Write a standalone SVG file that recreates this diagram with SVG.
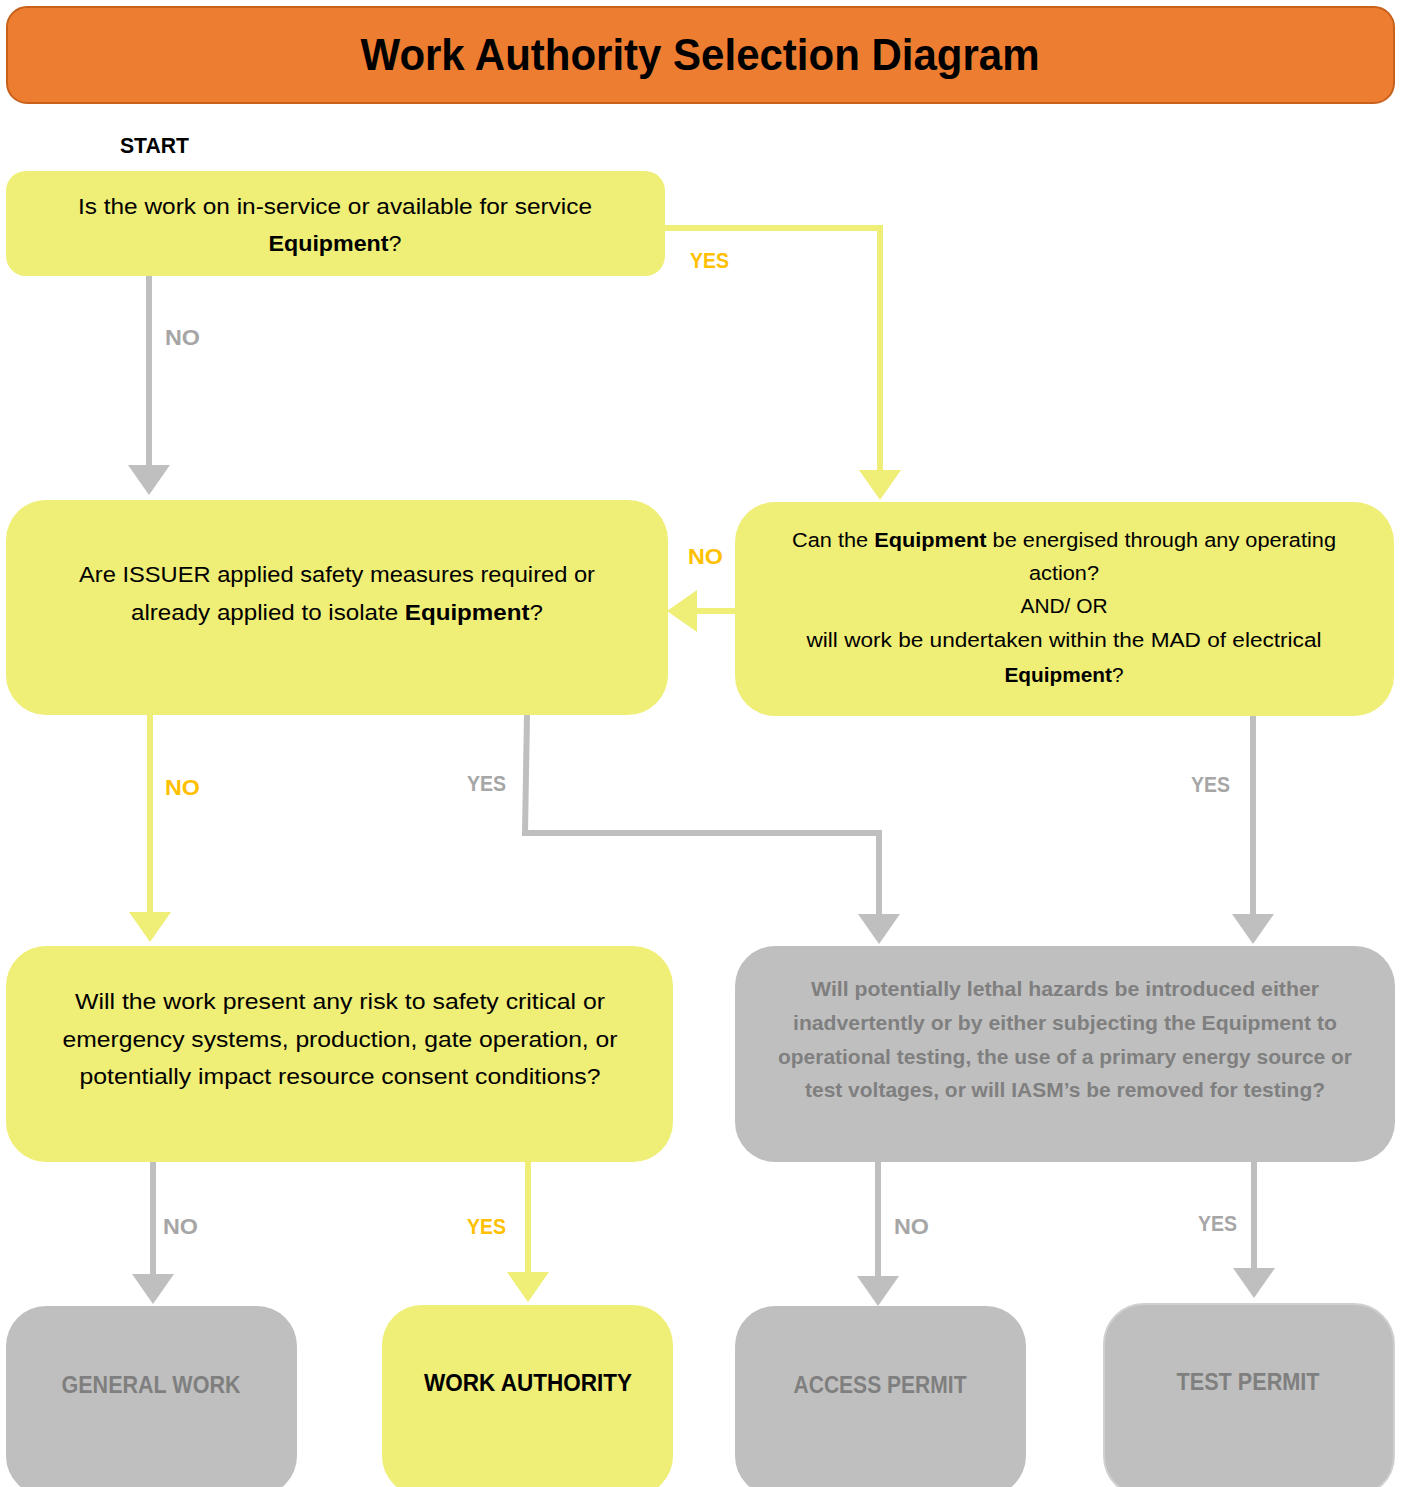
<svg xmlns="http://www.w3.org/2000/svg" width="1402" height="1487" viewBox="0 0 1402 1487">
<style>
text{font-family:"Liberation Sans",Arial,sans-serif;text-anchor:middle}
.t{font-size:22px;fill:#000}
.t3{font-size:20.5px;fill:#000}
.b{font-weight:bold}
.y{fill:#EFEE76}
.g{fill:#BFBFBF}
.lo{font-size:22px;font-weight:bold;fill:#FFC000;text-anchor:start}
.lg{font-size:22px;font-weight:bold;fill:#A6A6A6;text-anchor:start}
.cy{fill:none;stroke:#EFEE76;stroke-width:6}
.cg{fill:none;stroke:#BFBFBF;stroke-width:6}
.gt{font-size:21px;font-weight:bold;fill:#7F7F7F}
.end{font-size:23px;font-weight:bold}
</style>
<defs>
<marker id="ay" viewBox="0 0 30 42" refX="0" refY="21" markerWidth="30" markerHeight="42" markerUnits="userSpaceOnUse" orient="auto"><path d="M0,0 L30,21 L0,42 z" fill="#EFEE76"/></marker>
<marker id="ag" viewBox="0 0 30 42" refX="0" refY="21" markerWidth="30" markerHeight="42" markerUnits="userSpaceOnUse" orient="auto"><path d="M0,0 L30,21 L0,42 z" fill="#BFBFBF"/></marker>
</defs>

<g id="title">
<rect x="7" y="7" width="1387" height="96" rx="20" fill="#ED7D31" stroke="#C8611C" stroke-width="2"/>
<text x="700" y="70" font-size="45" font-weight="bold" textLength="679" lengthAdjust="spacingAndGlyphs">Work Authority Selection Diagram</text>
</g>
<text x="120" y="153" font-size="22" font-weight="bold" style="text-anchor:start" textLength="69" lengthAdjust="spacingAndGlyphs">START</text>

<g id="connectors">
<path class="cy" d="M665,228 H880 V470" marker-end="url(#ay)"/>
<path class="cg" d="M149,276 V465" marker-end="url(#ag)"/>
<path class="cy" d="M735,611 H697" marker-end="url(#ay)"/>
<path class="cy" d="M150,715 V912" marker-end="url(#ay)"/>
<path class="cg" d="M527,715 L525,833 H879 V914" marker-end="url(#ag)"/>
<path class="cg" d="M1253,716 V914" marker-end="url(#ag)"/>
<path class="cg" d="M153,1162 V1274" marker-end="url(#ag)"/>
<path class="cy" d="M528,1162 V1272" marker-end="url(#ay)"/>
<path class="cg" d="M878,1162 V1276" marker-end="url(#ag)"/>
<path class="cg" d="M1254,1162 V1268" marker-end="url(#ag)"/>
<text class="lo" x="690" y="268" textLength="39" lengthAdjust="spacingAndGlyphs">YES</text>
<text class="lg" x="165" y="345" textLength="35" lengthAdjust="spacingAndGlyphs">NO</text>
<text class="lo" x="688" y="564" textLength="35" lengthAdjust="spacingAndGlyphs">NO</text>
<text class="lo" x="165" y="795" textLength="35" lengthAdjust="spacingAndGlyphs">NO</text>
<text class="lg" x="467" y="791" textLength="39" lengthAdjust="spacingAndGlyphs">YES</text>
<text class="lg" x="1191" y="792" textLength="39" lengthAdjust="spacingAndGlyphs">YES</text>
<text class="lg" x="163" y="1234" textLength="35" lengthAdjust="spacingAndGlyphs">NO</text>
<text class="lo" x="467" y="1234" textLength="39" lengthAdjust="spacingAndGlyphs">YES</text>
<text class="lg" x="894" y="1234" textLength="35" lengthAdjust="spacingAndGlyphs">NO</text>
<text class="lg" x="1198" y="1231" textLength="39" lengthAdjust="spacingAndGlyphs">YES</text>
</g>

<g id="q1">
<rect class="y" x="6" y="171" width="659" height="105" rx="20"/>
<text class="t" x="335" y="214" textLength="514" lengthAdjust="spacingAndGlyphs">Is the work on in-service or available for service</text>
<text class="t" x="335" y="251" textLength="133" lengthAdjust="spacingAndGlyphs"><tspan class="b">Equipment</tspan>?</text>
</g>

<g id="q2">
<rect class="y" x="6" y="500" width="662" height="215" rx="40"/>
<text class="t" x="337" y="582" textLength="516" lengthAdjust="spacingAndGlyphs">Are ISSUER applied safety measures required or</text>
<text class="t" x="337" y="620" textLength="412" lengthAdjust="spacingAndGlyphs">already applied to isolate <tspan class="b">Equipment</tspan>?</text>
</g>

<g id="q3">
<rect class="y" x="735" y="502" width="659" height="214" rx="40"/>
<text class="t3" x="1064" y="547" textLength="544" lengthAdjust="spacingAndGlyphs">Can the <tspan class="b">Equipment</tspan> be energised through any operating</text>
<text class="t3" x="1064" y="580" textLength="70" lengthAdjust="spacingAndGlyphs">action?</text>
<text class="t3" x="1064" y="613" textLength="87" lengthAdjust="spacingAndGlyphs">AND/ OR</text>
<text class="t3" x="1064" y="647" textLength="515" lengthAdjust="spacingAndGlyphs">will work be undertaken within the MAD of electrical</text>
<text class="t3" x="1064" y="682" textLength="119" lengthAdjust="spacingAndGlyphs"><tspan class="b">Equipment</tspan>?</text>
</g>

<g id="q4">
<rect class="y" x="6" y="946" width="667" height="216" rx="40"/>
<text class="t" x="340" y="1009" textLength="530" lengthAdjust="spacingAndGlyphs">Will the work present any risk to safety critical or</text>
<text class="t" x="340" y="1047" textLength="555" lengthAdjust="spacingAndGlyphs">emergency systems, production, gate operation, or</text>
<text class="t" x="340" y="1084" textLength="521" lengthAdjust="spacingAndGlyphs">potentially impact resource consent conditions?</text>
</g>

<g id="q5">
<rect class="g" x="735" y="946" width="660" height="216" rx="40"/>
<text class="gt" x="1065" y="996" textLength="508" lengthAdjust="spacingAndGlyphs">Will potentially lethal hazards be introduced either</text>
<text class="gt" x="1065" y="1030" textLength="544" lengthAdjust="spacingAndGlyphs">inadvertently or by either subjecting the Equipment to</text>
<text class="gt" x="1065" y="1064" textLength="574" lengthAdjust="spacingAndGlyphs">operational testing, the use of a primary energy source or</text>
<text class="gt" x="1065" y="1097" textLength="520" lengthAdjust="spacingAndGlyphs">test voltages, or will IASM’s be removed for testing?</text>
</g>

<g id="general-work">
<rect class="g" x="6" y="1306" width="291" height="190" rx="40"/>
<text class="end" x="151" y="1393" fill="#7F7F7F" textLength="179" lengthAdjust="spacingAndGlyphs">GENERAL WORK</text>
</g>
<g id="work-authority">
<rect class="y" x="382" y="1305" width="291" height="191" rx="40"/>
<text class="end" x="528" y="1391" fill="#000" textLength="208" lengthAdjust="spacingAndGlyphs">WORK AUTHORITY</text>
</g>
<g id="access-permit">
<rect class="g" x="735" y="1306" width="291" height="190" rx="40"/>
<text class="end" x="880" y="1393" fill="#7F7F7F" textLength="173" lengthAdjust="spacingAndGlyphs">ACCESS PERMIT</text>
</g>
<g id="test-permit">
<rect class="g" x="1104" y="1304" width="290" height="192" rx="40" stroke="#D0D0D0" stroke-width="2"/>
<text class="end" x="1248" y="1390" fill="#7F7F7F" textLength="143" lengthAdjust="spacingAndGlyphs">TEST PERMIT</text>
</g>
</svg>
